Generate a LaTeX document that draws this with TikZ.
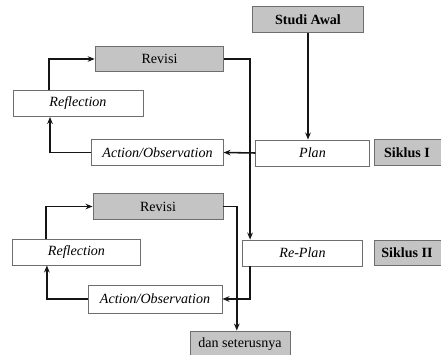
\documentclass[tikz,border=0pt]{standalone}
\usepackage{fontspec}
\setmainfont{Liberation Serif}
\usetikzlibrary{arrows.meta,positioning,calc}
\usepackage{xcolor}
\definecolor{BoxGray}  {HTML}{C4C4C4}
\definecolor{EdgeGray} {HTML}{6E6E6E}
\definecolor{LineBlack}{HTML}{151515}
\tikzset{
  gbox/.style={rectangle,draw=EdgeGray,line width=0.6pt,fill=BoxGray,
               font=\normalsize,inner sep=0pt,minimum height=0.63cm},
  wbox/.style={rectangle,draw=EdgeGray,line width=0.6pt,fill=white,
               font=\normalsize\itshape,inner sep=0pt,minimum height=0.65cm},
  arr/.style={-{Stealth[length=5pt,width=4pt]},line width=1.1pt,color=LineBlack},
}

\begin{document}
\begin{tikzpicture}[x=0.025cm,y=-0.025cm]

  \useasboundingbox (0,0) rectangle (441,355);

  \node[gbox,minimum width=2.78cm,font=\normalsize\bfseries] (studi)   at (308,19.5)   {Studi Awal};
  \node[gbox,minimum width=3.22cm]                           (revisiA) at (159.5,59)   {Revisi};
  \node[wbox,minimum width=3.25cm]                           (reflA)   at (78,103.5)   {Reflection};
  \node[wbox,minimum width=3.28cm]                           (actA)    at (157.5,152.5){Action/Observation};
  \node[wbox,minimum width=2.83cm]                           (plan)    at (312.5,153)  {Plan};
  \node[gbox,minimum width=1.75cm,font=\normalsize\bfseries] (siklusA) at (409,152.5)  {\hspace*{-0.1cm}Siklus I};

  \node[gbox,minimum width=3.25cm]                           (revisiB) at (158,206.5)  {Revisi};
  \node[wbox,minimum width=3.18cm]                           (reflB)   at (76.5,252)   {Reflection};
  \node[wbox,minimum width=2.98cm]                           (replan)  at (302.5,253)  {Re-Plan};
  \node[gbox,minimum width=1.75cm,font=\normalsize\bfseries] (siklusB) at (409,253)    {\hspace*{-0.1cm}Siklus II};
  \node[wbox,minimum width=3.35cm,minimum height=0.7cm]      (actB)    at (155,299)    {Action/Observation};
  \node[gbox,minimum width=2.5cm,minimum height=0.65cm]      (dan)     at (240,344)    {dan seterusnya};

  \draw[arr] (studi.south) -- (studi.south |- plan.north);
  \draw[arr] (plan.west) -- (actA.east);
  \draw[arr] (actA.west) -| ([xshift=-0.7cm]reflA.south);
  \draw[arr] ([xshift=-0.72cm]reflA.north) |- (revisiA.west);
  \draw[arr] (revisiA.east) -| ([xshift=-1.31cm]replan.north);
  \draw[arr] ([xshift=-1.31cm]replan.south) |- (actB.east);
  \draw[arr] (revisiB.east) -| ([xshift=-0.08cm]dan.north);
  \draw[arr] (actB.west) -| ([xshift=-0.74cm]reflB.south);
  \draw[arr] ([xshift=-0.76cm]reflB.north) |- (revisiB.west);

\end{tikzpicture}
\end{document}
